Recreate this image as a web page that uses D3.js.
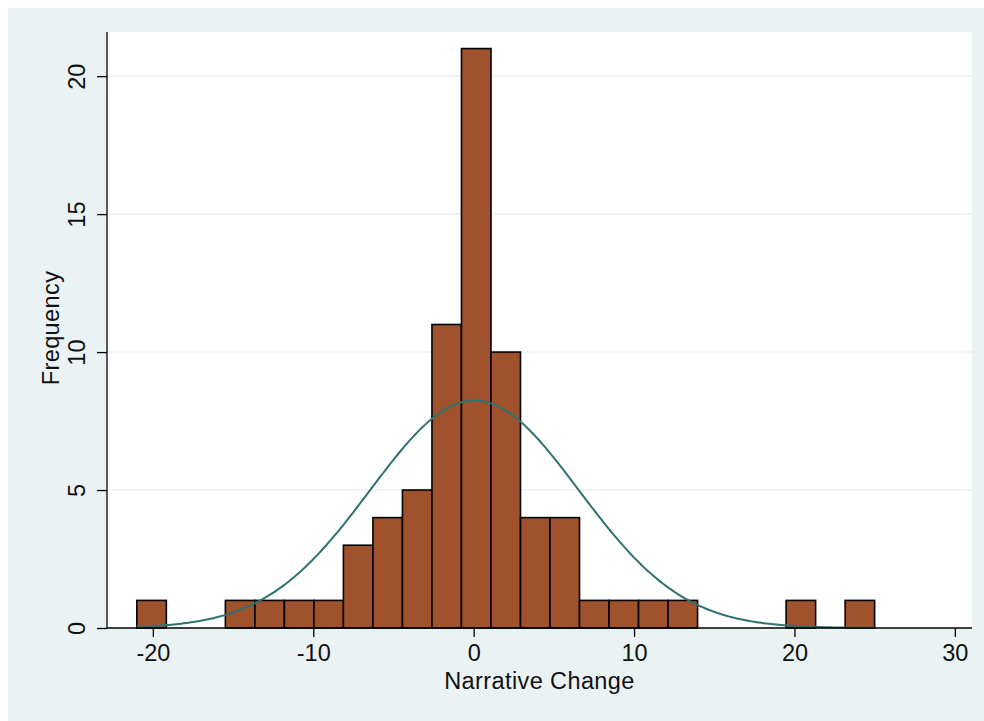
<!DOCTYPE html>
<html>
<head>
<meta charset="utf-8">
<script src="https://cdn.jsdelivr.net/npm/d3@7"></script>
<style>
  html, body { margin: 0; padding: 0; background: #fff; }
  svg text { font-family: "Liberation Sans", Arial, Helvetica, sans-serif; fill: #111; }
</style>
</head>
<body>
<div id="chart"></div>
<script>
// histogram bins: 25 bins of width 1.84 starting at -21
var binStart = -21,
  binWidth = 1.84;
var counts = [1, 0, 0, 1, 1, 1, 1, 3, 4, 5, 11, 21, 10, 4, 4, 1, 1, 1, 1, 0, 0, 0, 1, 0, 1];

// normal overlay
var fitMean = 0.05,
  fitSd = 6.5;

var xTicks = [-20, -10, 0, 10, 20, 30];
var yTicks = [0, 5, 10, 15, 20];

var W = 984,
  H = 721;
var plot = { left: 107, right: 972, top: 32, bottom: 628 };
var fs = 23.5;

var svg = d3.select("#chart").append("svg")
  .attr("width", W)
  .attr("height", H);

svg.append("rect")
  .attr("x", 8).attr("y", 8)
  .attr("width", W - 8).attr("height", H - 8)
  .attr("fill", "#eaf2f3");

svg.append("rect")
  .attr("x", plot.left).attr("y", plot.top)
  .attr("width", plot.right - plot.left).attr("height", plot.bottom - plot.top)
  .attr("fill", "#fff");

var x = d3.scaleLinear().domain([-22.86, 31.07]).range([plot.left, plot.right]);
var y = d3.scaleLinear().domain([0, 21.6]).range([plot.bottom, plot.top]);

var bins = counts.map(function(c, i) {
  return { x0: binStart + i * binWidth, x1: binStart + (i + 1) * binWidth, n: c };
});
var total = d3.sum(counts);

// gridlines
svg.append("g")
  .selectAll("line")
  .data(yTicks.filter(function(d) { return d > 0; }))
  .enter()
  .append("line")
  .attr("x1", plot.left).attr("x2", plot.right)
  .attr("y1", function(d) { return y(d); })
  .attr("y2", function(d) { return y(d); })
  .attr("stroke", "#eaf2f3")
  .attr("stroke-width", 1.5);

// bars
svg.append("g")
  .selectAll("rect")
  .data(bins.filter(function(d) { return d.n > 0; }))
  .enter()
  .append("rect")
  .attr("x", function(d) { return x(d.x0); })
  .attr("y", function(d) { return y(d.n); })
  .attr("width", function(d) { return x(d.x1) - x(d.x0); })
  .attr("height", function(d) { return y(0) - y(d.n); })
  .attr("fill", "#a0522d")
  .attr("stroke", "#000")
  .attr("stroke-width", 1.6);

// normal density scaled to frequency
var xs = d3.range(0, 301).map(function(i) {
  return binStart + i * (binWidth * counts.length) / 300;
});
var scale = total * binWidth / (fitSd * Math.sqrt(2 * Math.PI));
var curve = xs.map(function(v) {
  var z = (v - fitMean) / fitSd;
  return [v, scale * Math.exp(-0.5 * z * z)];
});

svg.append("path")
  .datum(curve)
  .attr("fill", "none")
  .attr("stroke", "#2e7370")
  .attr("stroke-width", 2)
  .attr("d", d3.line()
    .x(function(d) { return x(d[0]); })
    .y(function(d) { return y(d[1]); }));

// x axis
var xAxis = svg.append("g")
  .attr("transform", "translate(0," + plot.bottom + ")")
  .call(d3.axisBottom(x).tickValues(xTicks).tickFormat(function(d) { return String(d); })
    .tickSize(9).tickPadding(7).tickSizeOuter(0));
xAxis.select(".domain").attr("stroke", "#000").attr("stroke-width", 1.3)
  .attr("d", "M" + plot.left + ",0H" + plot.right);
xAxis.selectAll(".tick line").attr("stroke", "#000").attr("stroke-width", 1.3);
xAxis.selectAll(".tick text").attr("font-size", fs).attr("fill", "#111")
  .style("font-family", "'Liberation Sans', Arial, sans-serif");

// y axis
var yAxis = svg.append("g")
  .attr("transform", "translate(" + plot.left + ",0)")
  .call(d3.axisLeft(y).tickValues(yTicks).tickSize(10).tickSizeOuter(0));
yAxis.select(".domain").attr("stroke", "#000").attr("stroke-width", 1.3)
  .attr("d", "M0," + plot.top + "V" + plot.bottom);
yAxis.selectAll(".tick line").attr("stroke", "#000").attr("stroke-width", 1.3);
yAxis.selectAll(".tick text")
  .attr("font-size", fs).attr("fill", "#111")
  .style("font-family", "'Liberation Sans', Arial, sans-serif")
  .attr("x", null).attr("dy", null)
  .attr("text-anchor", "middle")
  .attr("transform", "translate(-22,0) rotate(-90)");

// axis titles
svg.append("text")
  .attr("x", (plot.left + plot.right) / 2)
  .attr("y", 689)
  .attr("text-anchor", "middle")
  .attr("font-size", fs)
  .attr("letter-spacing", 0.4)
  .text("Narrative Change");

svg.append("text")
  .attr("transform", "translate(59," + ((plot.top + plot.bottom) / 2 - 2) + ") rotate(-90)")
  .attr("text-anchor", "middle")
  .attr("font-size", fs)
  .attr("letter-spacing", 0.4)
  .text("Frequency");
</script>
</body>
</html>
